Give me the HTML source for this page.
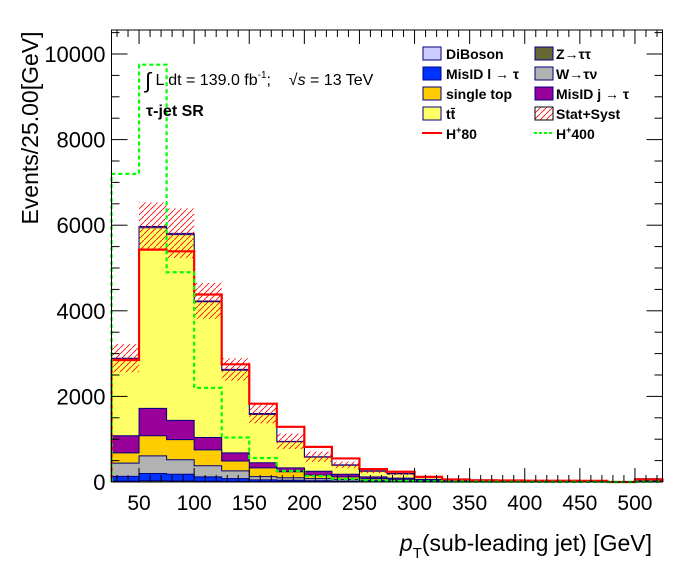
<!DOCTYPE html>
<html><head><meta charset="utf-8"><style>
body{margin:0;background:#fff}
svg text{font-family:"Liberation Sans",sans-serif}
</style></head><body>
<svg id="c" width="696" height="572" xmlns="http://www.w3.org/2000/svg">
<defs>
<pattern id="hatch" patternUnits="userSpaceOnUse" width="6" height="6">
<path d="M0,6 L6,0" stroke="#ff0000" stroke-width="0.8"/>
</pattern>
</defs>
<g id="plot"></g>
<g font-weight="bold" font-size="14">
<rect x="423" y="47" width="18" height="13" fill="#ccccff" stroke="#000080"/><text x="446" y="59">DiBoson</text>
<rect x="535" y="47" width="18" height="13" fill="#666633" stroke="#000080"/><text x="556" y="59">Z→ττ</text>
<rect x="423" y="67" width="18" height="13" fill="#0033ff" stroke="#000080"/><text x="446" y="79">MisID l → τ</text>
<rect x="535" y="67" width="18" height="13" fill="#b2b2b2" stroke="#000080"/><text x="556" y="79">W→τν</text>
<rect x="423" y="87" width="18" height="13" fill="#ffcc00" stroke="#000080"/><text x="446" y="99">single top</text>
<rect x="535" y="87" width="18" height="13" fill="#990099" stroke="#000080"/><text x="556" y="99">MisID j → τ</text>
<rect x="423" y="107" width="18" height="13" fill="#ffff66" stroke="#000080"/><text x="446" y="119">tt̄</text>
<rect x="535" y="107" width="18" height="13" fill="url(#hatch)" stroke="#000"/><text x="556" y="119">Stat+Syst</text>
<line x1="422" y1="133" x2="442" y2="133" stroke="#ff0000" stroke-width="2"/><text x="446" y="139">H<tspan font-size="9" dy="-6">+</tspan><tspan dy="6">80</tspan></text>
<line x1="534" y1="133" x2="554" y2="133" stroke="#00ff00" stroke-width="2" stroke-dasharray="3,2"/><text x="556" y="139">H<tspan font-size="9" dy="-6">+</tspan><tspan dy="6">400</tspan></text>
</g>
<text x="145" y="85" font-size="16" xml:space="preserve"><tspan font-size="22" dy="3">∫</tspan><tspan dy="-3"> L dt = 139.0 fb</tspan><tspan font-size="10" dy="-7">-1</tspan><tspan dy="7">;    √</tspan><tspan font-style="italic">s</tspan> = 13 TeV</text>
<text x="146" y="116" font-size="16" font-weight="bold">τ-jet SR</text>
<text transform="translate(38,128) rotate(-90)" text-anchor="middle" font-size="23">Events/25.00[GeV]</text>
<text x="652" y="551" text-anchor="end" font-size="23"><tspan font-style="italic">p</tspan><tspan font-size="15" dy="7">T</tspan><tspan dy="-7">(sub-leading jet) [GeV]</tspan></text>
</svg>
<script>
const binEdges=[25,50,75,100,125,150,175,200,225,250,275,300,325,350,375,400,425,450,475,500,525];
const zttValues=[20,30,25,20,15,10,8,6,5,4,3,2,2,1,1,1,1,1,0,2];
const misidlValues=[110,170,155,100,65,40,32,24,15,11,7,6,4,3,3,2,2,1,0,4];
const wtaunuValues=[310,410,340,260,180,75,60,50,40,25,20,12,8,6,5,4,3,2,0,10];
const stopValues=[240,470,470,370,230,205,140,80,60,40,30,20,10,8,6,5,4,3,0,12];
const misidjValues=[400,640,450,290,190,120,90,90,60,40,30,20,12,10,8,6,5,4,0,12];
const ttbarValues=[1790,4220,4340,3170,1930,1130,610,330,210,130,100,60,30,20,15,12,10,8,0,30];
const dibosonValues=[20,30,30,20,20,20,10,10,10,10,10,5,4,2,2,2,2,1,0,5];
const uncValues=[330,560,580,420,260,230,180,120,80,50,40,25,15,10,8,6,5,4,0,10];
const h80Values=[2850,5430,5390,4380,2750,1830,1290,820,550,300,240,120,60,40,35,30,30,28,0,60];
const h400Values=[7200,9750,4900,2200,1040,560,260,140,70,40,25,15,8,5,4,3,3,2,0,5];
const xTicks=[50,100,150,200,250,300,350,400,450,500];
const yTicks=[0,2000,4000,6000,8000,10000];

const X0=111.5,X1=662.5,Y0=482,Y1=30;
const xs=v=>X0+(v-25)*(X1-X0)/500;
const ys=v=>Y0-v*(Y0-54)/10000;
const NS="http://www.w3.org/2000/svg";
const g=document.getElementById('plot');
function mk(t,a){const e=document.createElementNS(NS,t);for(const k in a)e.setAttribute(k,a[k]);g.appendChild(e);return e;}

const comps=[[zttValues,'#666633','z-tautau'],[misidlValues,'#0033ff','misid-l'],[wtaunuValues,'#b2b2b2','w-taunu'],[stopValues,'#ffcc00','single-top'],[misidjValues,'#990099','misid-j'],[ttbarValues,'#ffff66','ttbar'],[dibosonValues,'#ccccff','diboson']];
const n=binEdges.length-1;
let cum=new Array(n).fill(0);
const layers=[];
comps.forEach(c=>{cum=cum.map((v,i)=>v+c[0][i]);layers.push([cum.slice(),c[1],c[2]]);});
function stepPath(vals){let d='M'+xs(binEdges[0])+','+ys(0);for(let i=0;i<n;i++){d+=' L'+xs(binEdges[i])+','+ys(vals[i])+' L'+xs(binEdges[i+1])+','+ys(vals[i]);}d+=' L'+xs(binEdges[n])+','+ys(0);return d;}
for(let k=layers.length-1;k>=0;k--){
  const p=mk('path',{d:stepPath(layers[k][0])+' Z',fill:layers[k][1],stroke:'#000080','stroke-width':1});
  
  
}
const total=layers[layers.length-1][0];
for(let i=0;i<n;i++){
  if(uncValues[i]<=0)continue;
  const r=mk('rect',{x:xs(binEdges[i]),y:ys(total[i]+uncValues[i]),width:xs(binEdges[i+1])-xs(binEdges[i]),height:ys(total[i]-uncValues[i])-ys(total[i]+uncValues[i]),fill:'url(#hatch)'});
  
  
}
const l80=mk('path',{d:stepPath(h80Values),fill:'none',stroke:'#ff0000','stroke-width':2.2});


const l400=mk('path',{d:stepPath(h400Values),fill:'none',stroke:'#00ff00','stroke-width':2.2,'stroke-dasharray':'4,3'});


const fr=mk('rect',{x:X0,y:Y1,width:X1-X0,height:Y0-Y1,fill:'none',stroke:'#000','stroke-width':1});


for(let v=30;v<=520;v+=10){const big=v%50==0;const L=big?14:7;
  mk('line',{x1:xs(v),x2:xs(v),y1:Y0,y2:Y0-L,stroke:'#000'});
  mk('line',{x1:xs(v),x2:xs(v),y1:Y1,y2:Y1+L,stroke:'#000'});}
xTicks.forEach(v=>{const t=mk('text',{x:xs(v),y:Y0+28,'text-anchor':'middle','font-size':21});t.textContent=v;
  
  });
for(let v=0;v<=10500;v+=500){const big=v%2000==0;const L=big?16:8;
  mk('line',{x1:X0,x2:X0+L,y1:ys(v),y2:ys(v),stroke:'#000'});
  mk('line',{x1:X1,x2:X1-L,y1:ys(v),y2:ys(v),stroke:'#000'});}
yTicks.forEach(v=>{const t=mk('text',{x:X0-6,y:ys(v)+8,'text-anchor':'end','font-size':22});t.textContent=v;
  
  });
</script>
</body></html>
